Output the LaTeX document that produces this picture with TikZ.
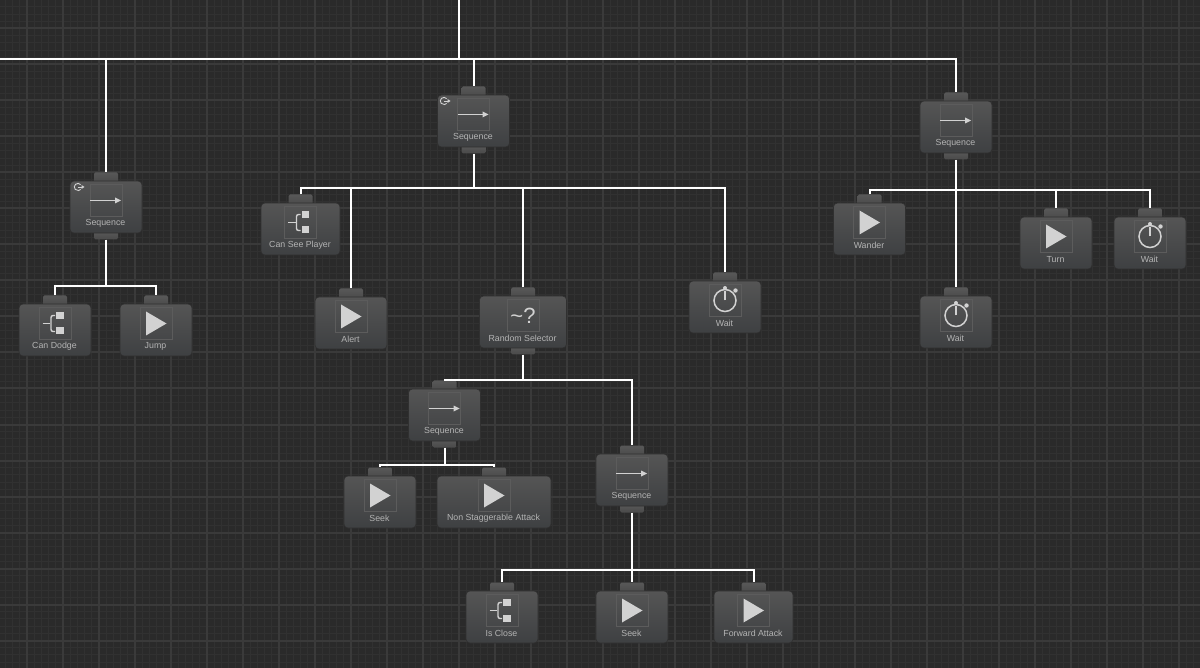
\documentclass[tikz,border=0pt]{standalone}
\usepackage{fontspec}
\setmainfont{Liberation Sans}
\usetikzlibrary{positioning,arrows.meta,calc}
\definecolor{GridBack}{HTML}{2A2A2A}
\definecolor{GridMinor}{HTML}{313131}
\definecolor{GridMajor}{HTML}{3A3A3A}
\definecolor{BodyTop}{HTML}{555555}
\definecolor{BodyBottom}{HTML}{3E4042}
\definecolor{BodyEdge}{HTML}{303030}
\definecolor{NotchTop}{HTML}{585858}
\definecolor{NotchBottom}{HTML}{4A4A4A}
\definecolor{IconEdge}{HTML}{5C5C5C}
\definecolor{IconFill}{HTML}{D2D2D2}
\definecolor{LabelGray}{HTML}{B4B4B4}
\pgfdeclarelayer{gridlayer}
\pgfdeclarelayer{notchlayer}
\pgfsetlayers{gridlayer,notchlayer,main}
\tikzset{
  taskbody/.style={draw=BodyEdge, line width=0.6pt, rounded corners=4pt, top color=BodyTop, bottom color=BodyBottom, minimum height=52pt, inner sep=0pt},
  notch/.style={draw=none, rounded corners=1.5pt, top color=NotchTop, bottom color=NotchBottom, minimum width=24pt, minimum height=10pt, inner sep=0pt},
  tasklabel/.style={text=LabelGray, font=\fontsize{8.8}{10}\selectfont, inner sep=0pt},
  wire/.style={draw=white, line width=2pt},
  iconbox/.style={draw=IconEdge, line width=0.6pt},
  pics/seqicon/.style={code={
    \draw[iconbox] (-16,-16) rectangle (16,16);
    \draw[IconFill, line width=1.8pt] (-16,0) -- (10,0);
    \fill[IconFill] (9,-3) -- (15,0) -- (9,3) -- cycle;
  }},
  pics/acticon/.style={code={
    \draw[iconbox] (-16,-16) rectangle (16,16);
    \fill[IconFill] (-10,-12) -- (10.5,0) -- (-10,12) -- cycle;
  }},
  pics/condicon/.style={code={
    \draw[iconbox] (-16,-16) rectangle (16,16);
    \draw[IconFill, line width=1.4pt] (-12.5,0) -- (-5,0);
    \draw[IconFill, line width=1.4pt, rounded corners=2pt] (0,-8) -- (-4,-8) -- (-4,8) -- (0,8);
    \fill[IconFill] (1,-11.5) rectangle (8.5,-4.5);
    \fill[IconFill] (1,4) rectangle (8.5,11);
  }},
  pics/waiticon/.style={code={
    \draw[iconbox] (-16,-16) rectangle (16,16);
    \draw[IconFill, line width=1.5pt] (0,0) circle (11);
    \draw[IconFill, line width=1.5pt] (0,0) -- (0,-9);
    \fill[IconFill] (0,-12.5) circle (2);
    \fill[IconFill] (10.5,-10) circle (2.2);
  }},
  pics/randicon/.style={code={
    \draw[iconbox] (-16,-16) rectangle (16,16);
    \node[text=IconFill, font=\fontsize{22}{22}\selectfont, inner sep=0pt] (-mark) at (0,0) {\textasciitilde?};
  }},
  pics/rooticon/.style={code={
    \draw[IconFill, line width=0.9pt] (2.6,-2.4) arc[start angle=-42, end angle=-318, radius=3.6];
    \draw[IconFill, line width=0.9pt] (0,0) -- (4.5,0);
    \fill[IconFill] (3.5,-2) -- (6.5,0) -- (3.5,2) -- cycle;
  }},
}
% name, centre x, top y, width, label, icon
\newcommand{\tasknode}[6]{
  \node[taskbody, minimum width=#4pt] (#1) at (#2,{#3+26}) {};
  \begin{pgfonlayer}{notchlayer}
    \node[notch, above=-2pt of #1] (#1-in) {};
  \end{pgfonlayer}
  \pic at (#2,{#3+19.5}) {#6};
  \node[tasklabel] (#1-label) at ({#2-0.5},{#3+42.5}) {#5};
}
\newcommand{\taskout}[1]{
  \begin{pgfonlayer}{notchlayer}
    \node[notch, minimum height=8pt, below=-2pt of #1] (#1-out) {};
  \end{pgfonlayer}
}
\begin{document}
\begin{tikzpicture}[x=1pt,y=-1pt]
  \useasboundingbox (0,0) rectangle (1200,668);

  % Grid
  \begin{pgfonlayer}{gridlayer}
    \fill[GridBack] (0,0) rectangle (1200,668);
    \foreach \k in {0,...,167} {
      \draw[GridMinor, line width=1pt] ({-1.8+7.2*\k},0) -- ({-1.8+7.2*\k},668);
    }
    \foreach \k in {0,...,93} {
      \draw[GridMinor, line width=1pt] (0,{-0.3+7.2*\k}) -- (1200,{-0.3+7.2*\k});
    }
    \foreach \k in {0,...,33} {
      \draw[GridMajor, line width=2pt] ({27+36*\k},0) -- ({27+36*\k},668);
    }
    \foreach \k in {-1,...,18} {
      \draw[GridMajor, line width=2pt] (0,{28.5+36*\k}) -- (1200,{28.5+36*\k});
    }
  \end{pgfonlayer}

  % Tasks
  \tasknode{seqLeft}{106}{181}{72}{Sequence}{seqicon}
  \tasknode{seqMid}{473.5}{95}{72}{Sequence}{seqicon}
  \tasknode{seqRight}{956}{101}{72}{Sequence}{seqicon}
  \taskout{seqLeft}
  \taskout{seqMid}
  \taskout{seqRight}
  \pic at (78,187) {rooticon};
  \pic at (444,101) {rooticon};

  \tasknode{canDodge}{55}{304}{72}{Can Dodge}{condicon}
  \tasknode{jump}{156}{304}{72}{Jump}{acticon}

  \tasknode{canSee}{300.5}{203}{79}{Can See Player}{condicon}
  \tasknode{alert}{351}{297}{72}{Alert}{acticon}
  \tasknode{randSel}{523}{296}{87}{Random Selector}{randicon}
  \taskout{randSel}
  \tasknode{waitMid}{725}{281}{72}{Wait}{waiticon}

  \tasknode{wander}{869.5}{203}{72}{Wander}{acticon}
  \tasknode{waitLow}{956}{296}{72}{Wait}{waiticon}
  \tasknode{turn}{1056}{217}{72}{Turn}{acticon}
  \tasknode{waitRight}{1150}{217}{72}{Wait}{waiticon}

  \tasknode{seqSeek}{444.5}{389}{72}{Sequence}{seqicon}
  \taskout{seqSeek}
  \tasknode{seek}{380}{476}{72}{Seek}{acticon}
  \tasknode{nonStagger}{494}{476}{114}{Non Staggerable Attack}{acticon}

  \tasknode{seqAttack}{632}{454}{72}{Sequence}{seqicon}
  \taskout{seqAttack}
  \tasknode{isClose}{502}{591}{72}{Is Close}{condicon}
  \tasknode{seekLow}{632}{591}{72}{Seek}{acticon}
  \tasknode{forward}{753.5}{591}{79}{Forward Attack}{acticon}

  % Connectors
  \coordinate (rootTop) at (459,0);
  \coordinate (busRoot) at (0,59.5);
  \coordinate (busLeft) at (0,286);
  \coordinate (busMid) at (0,188);
  \coordinate (busRight) at (0,190);
  \coordinate (busRand) at (0,380);
  \coordinate (busSeek) at (0,465);
  \coordinate (busAttack) at (0,570);

  \draw[wire] (rootTop) -- (rootTop |- busRoot);
  \draw[wire] (busRoot) -| (seqRight-in.north);
  \draw[wire] (seqLeft-in.north |- busRoot) -- (seqLeft-in.north);
  \draw[wire] (seqMid-in.north |- busRoot) -- (seqMid-in.north);

  \draw[wire] (seqLeft-out.south) -- (seqLeft-out.south |- busLeft);
  \draw[wire] (canDodge-in.north) |- (jump-in.north |- busLeft) -- (jump-in.north);

  \draw[wire] (seqMid-out.south) -- (seqMid-out.south |- busMid);
  \draw[wire] (canSee-in.north) |- (waitMid-in.north |- busMid) -- (waitMid-in.north);
  \draw[wire] (alert-in.north |- busMid) -- (alert-in.north);
  \draw[wire] (randSel-in.north |- busMid) -- (randSel-in.north);

  \draw[wire] (seqRight-out.south) -- (waitLow-in.north);
  \draw[wire] (wander-in.north) |- (waitRight-in.north |- busRight) -- (waitRight-in.north);
  \draw[wire] (turn-in.north |- busRight) -- (turn-in.north);

  \draw[wire] (randSel-out.south) -- (randSel-out.south |- busRand);
  \draw[wire] (seqSeek-in.north) |- (seqAttack-in.north |- busRand) -- (seqAttack-in.north);

  \draw[wire] (seqSeek-out.south) -- (seqSeek-out.south |- busSeek);
  \draw[wire] (seek-in.north) |- (nonStagger-in.north |- busSeek) -- (nonStagger-in.north);

  \draw[wire] (seqAttack-out.south) -- (seekLow-in.north);
  \draw[wire] (isClose-in.north) |- (forward-in.north |- busAttack) -- (forward-in.north);
\end{tikzpicture}
\end{document}
